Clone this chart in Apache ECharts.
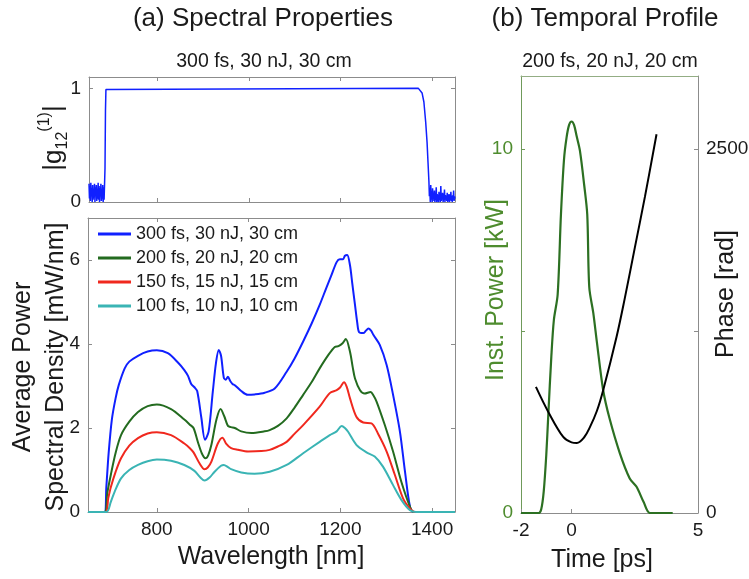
<!DOCTYPE html>
<html><head><meta charset="utf-8">
<script src="https://cdn.jsdelivr.net/npm/echarts@6/dist/echarts.min.js"></script>
<style>html,body{margin:0;padding:0;background:#fff}#c{width:749px;height:579px}</style>
</head><body><div id="c"></div>
<script>
const FONT = "'Liberation Sans', Arial, Helvetica, sans-serif";

// ---------- data ----------
const seriesNames = ['300 fs, 30 nJ, 30 cm', '200 fs, 20 nJ, 20 cm', '150 fs, 15 nJ, 15 cm', '100 fs, 10 nJ, 10 cm'];
const wlTicks = [800, 1000, 1200, 1400];
const psdTicks = [0, 2, 4, 6];
const cohTicks = [0, 1];
const timeTicks = [-2, 0, 5];
const powerTicks = [0, 5, 10];
const powerLabels = [0, 10];
const phaseTicks = [0, 1250, 2500];
const phaseLabels = [0, 2500];

const blueWl  = [650,686,690,695,702,710,717,730,740,759,780,800,824,846,860,868,875,882,888,897,905,913,922,929,935,940,946,950,955,960,965,970,984,998,1013,1035,1057,1083,1100,1119,1138,1155,1170,1180,1192,1199,1206,1210,1215,1221,1226,1232,1237,1241,1250,1256,1261,1267,1272,1286,1301,1315,1330,1341,1352,1360,1450];
const blueVal = [0,0,0.6,1.4,2.2,2.7,3.02,3.42,3.58,3.72,3.82,3.85,3.78,3.56,3.38,3.24,3.05,2.97,2.88,2.25,1.72,1.92,2.86,3.55,3.86,3.72,3.2,3.15,3.22,3.12,3.05,3.02,2.88,2.79,2.8,2.84,2.94,3.34,3.65,4.06,4.5,4.93,5.35,5.62,5.95,6.02,6.02,6.1,6.12,5.88,5.45,4.93,4.5,4.28,4.26,4.32,4.37,4.32,4.22,3.98,3.5,2.79,1.91,0.96,0.12,0,0];

const greenWl  = [650,686,692,700,710,722,740,759,780,800,831,860,872,880,890,898,906,912,919,930,939,947,955,962,970,984,1006,1035,1046,1064,1083,1100,1119,1138,1155,1174,1188,1196,1205,1212,1221,1227,1232,1243,1253,1266,1272,1279,1297,1315,1333,1352,1360,1450];
const greenVal = [0,0,0.45,0.9,1.4,1.83,2.15,2.38,2.52,2.56,2.45,2.2,2.08,2.0,1.65,1.4,1.28,1.35,1.6,2.2,2.45,2.28,2.05,2.02,2.0,1.92,1.88,1.92,1.95,2.05,2.23,2.48,2.79,3.1,3.42,3.74,3.93,3.95,4.02,4.12,3.82,3.45,3.18,2.9,2.82,2.86,2.78,2.63,2.07,1.44,0.72,0.12,0,0];

const redWl  = [650,688,694,700,710,722,740,759,780,800,831,860,872,880,893,904,911,919,933,943,951,962,977,999,1028,1046,1064,1083,1100,1119,1155,1177,1192,1200,1208,1214,1221,1235,1250,1268,1282,1301,1319,1337,1352,1362,1450];
const redVal = [0,0,0.32,0.6,0.95,1.28,1.58,1.76,1.87,1.9,1.83,1.63,1.52,1.42,1.16,1.02,1.06,1.2,1.63,1.77,1.63,1.52,1.48,1.44,1.45,1.48,1.56,1.67,1.86,2.07,2.51,2.83,2.9,2.97,3.09,2.98,2.71,2.27,2.13,2.11,1.87,1.44,0.88,0.32,0.08,0,0];

const cyanWl  = [650,690,700,708,722,740,759,780,800,831,860,882,895,904,915,926,940,946,955,962,984,1013,1046,1083,1119,1155,1177,1192,1203,1210,1217,1235,1257,1275,1293,1315,1333,1352,1365,1450];
const cyanVal = [0,0,0.25,0.48,0.8,1.0,1.12,1.21,1.25,1.22,1.12,0.98,0.82,0.75,0.82,0.96,1.1,1.12,1.07,1.02,0.94,0.91,0.96,1.12,1.4,1.67,1.83,1.92,2.05,2.0,1.91,1.6,1.42,1.32,1.08,0.64,0.29,0.04,0,0];

const cohWl  = [650,651,652,653,654,655,656,657,658,659,660,661,662,663,664,665,666,667,668,669,670,671,672,673,674,675,676,677,678,679,680,681,682,683,684,685,686,687,688,1370,1374,1378,1382,1386,1389,1391,1393,1394,
  1395,1396,1397,1398,1399,1400,1401,1402,1403,1404,1405,1406,1407,1408,1409,1410,1411,1412,1413,1414,1415,1416,1417,1418,1419,1420,1421,1422,1423,1424,1425,1426,1427,1428,1429,1430,1431,1432,1433,1434,1435,1436,1437,1438,1439,1440,1441,1442,1443,1444,1445,1446,1447,1448,1449,1450];
const cohVal = [0.16,0.03,0.14,0.01,0.17,0.05,0.12,0.0,0.15,0.02,0.1,0.04,0.16,0.0,0.13,0.06,0.15,0.01,0.11,0.03,0.17,0.02,0.14,0.0,0.12,0.05,0.16,0.01,0.09,0.03,0.15,0.0,0.13,0.02,0.02,0.3,0.8,0.99,1.0,1.0,0.99,0.96,0.88,0.7,0.52,0.35,0.18,0.05,
  0.1,0.0,0.15,0.02,0.08,0.0,0.12,0.03,0.06,0.01,0.1,0.0,0.05,0.02,0.13,0.0,0.07,0.03,0.04,0.0,0.09,0.02,0.06,0.0,0.14,0.01,0.05,0.03,0.08,0.0,0.04,0.02,0.11,0.0,0.06,0.03,0.05,0.01,0.08,0.0,0.03,0.02,0.07,0.0,0.05,0.02,0.09,0.01,0.04,0.0,0.06,0.02,0.1,0.01,0.05,0.03];

const powerT   = [-2,-1.3,-1.2,-1.1,-1.0,-0.92,-0.8,-0.7,-0.55,-0.42,-0.3,-0.2,-0.1,0.0,0.1,0.2,0.33,0.5,0.62,0.7,0.86,1.0,1.25,1.5,1.91,2.3,2.57,2.85,3.1,4.0];
const powerVal = [0,0,0.1,0.6,1.6,2.7,4.3,5.3,6.0,8.2,9.7,10.3,10.65,10.75,10.65,10.35,9.95,9.0,8.2,6.2,5.49,4.7,3.37,2.6,1.64,0.95,0.72,0.3,0,0];

const phaseT   = [-1.41,-0.92,-0.33,0.0,0.21,0.5,0.73,1.0,1.25,1.78,2.1,2.5,2.9,3.36];
const phaseVal = [866,694,522,485,481,520,591,700,843,1210,1470,1820,2170,2600];

// ---------- styles ----------
const colors = ['#1020ff', '#236b1f', '#f0281e', '#3ab4b4'];
const AX = '#8c8c8c';
const TXT = '#1a1a1a';
const GREEN_LBL = '#4e8c2e';
const pairs = (xs, ys) => xs.map((x, i) => [x, ys[i]]);
const plain = v => String(v);

function xAx(grid, pos, min, max, ticks, showLabel, lineColor) {
  return {
    type: 'value', gridIndex: grid, position: pos, min: min, max: max,
    axisLine: { show: true, onZero: false, lineStyle: { color: lineColor || AX, width: 1 } },
    axisTick: { show: !!ticks, inside: true, length: 4, customValues: ticks || [], lineStyle: { color: lineColor || AX } },
    axisLabel: { show: showLabel, customValues: ticks || [], formatter: plain, color: TXT, fontSize: 19, fontFamily: FONT, margin: 8 },
    splitLine: { show: false }
  };
}
function yAx(grid, pos, min, max, ticks, labels, lineColor, labelColor) {
  return {
    type: 'value', gridIndex: grid, position: pos, min: min, max: max,
    axisLine: { show: true, onZero: false, lineStyle: { color: lineColor || AX, width: 1 } },
    axisTick: { show: true, inside: true, length: 4, customValues: ticks, lineStyle: { color: lineColor || AX } },
    axisLabel: { show: !!labels, customValues: labels || [], formatter: plain, color: labelColor || TXT, fontSize: 19, fontFamily: FONT, margin: 8 },
    splitLine: { show: false }
  };
}
function lineSeries(name, xi, yi, data, color, width, smooth) {
  return { type: 'line', name: name, xAxisIndex: xi, yAxisIndex: yi, data: data, showSymbol: false, smooth: smooth,
    lineStyle: { color: color, width: width }, itemStyle: { color: color } };
}

const chart = echarts.init(document.getElementById('c'), null, { renderer: 'canvas' });
const option = {
  backgroundColor: '#fff',
  animation: false,
  grid: [
    { left: 89, top: 77, width: 366, height: 125, outerBoundsMode: 'none', containLabel: false },
    { left: 88, top: 218, width: 367, height: 294, outerBoundsMode: 'none', containLabel: false },
    { left: 521, top: 76, width: 177, height: 437, outerBoundsMode: 'none', containLabel: false }
  ],
  xAxis: [
    xAx(0, 'bottom', 650, 1450, wlTicks, false),
    xAx(0, 'top', 650, 1450, wlTicks, false),
    xAx(1, 'bottom', 650, 1450, wlTicks, true),
    xAx(1, 'top', 650, 1450, wlTicks, false),
    xAx(2, 'bottom', -2, 5, timeTicks, true),
    xAx(2, 'top', -2, 5, null, false, '#93ad84')
  ],
  yAxis: [
    yAx(0, 'left', 0, 1.1, cohTicks, cohTicks),
    yAx(0, 'right', 0, 1.1, cohTicks, null),
    yAx(1, 'left', 0, 7, psdTicks, psdTicks),
    yAx(1, 'right', 0, 7, psdTicks, null),
    yAx(2, 'left', 0, 12, powerTicks, powerLabels, '#6f9a5a', GREEN_LBL),
    yAx(2, 'right', 0, 3000, phaseTicks, phaseLabels, AX, TXT)
  ],
  legend: {
    data: seriesNames, orient: 'vertical', left: 98, top: 225,
    icon: 'rect', itemWidth: 33, itemHeight: 3, itemGap: 6,
    textStyle: { fontSize: 18, fontFamily: FONT, color: TXT, padding: [0, 0, 0, 0] },
    backgroundColor: 'rgba(255,255,255,0)', padding: 0
  },
  series: [
    lineSeries('coh', 0, 0, pairs(cohWl, cohVal), colors[0], 1.5, false),
    lineSeries(seriesNames[0], 2, 2, pairs(blueWl, blueVal), colors[0], 2, 0.3),
    lineSeries(seriesNames[1], 2, 2, pairs(greenWl, greenVal), colors[1], 2, 0.3),
    lineSeries(seriesNames[2], 2, 2, pairs(redWl, redVal), colors[2], 2, 0.3),
    lineSeries(seriesNames[3], 2, 2, pairs(cyanWl, cyanVal), colors[3], 2, 0.3),
    lineSeries('power', 4, 4, pairs(powerT, powerVal), '#2c7022', 2.2, 0.3),
    lineSeries('phase', 4, 5, pairs(phaseT, phaseVal), '#000', 2, 0.35)
  ],
  graphic: [
    { type: 'text', x: 263, y: 19, style: { text: '(a) Spectral Properties', fontSize: 26, fontFamily: FONT, fill: TXT, textAlign: 'center', textVerticalAlign: 'middle' } },
    { type: 'text', x: 605, y: 19, style: { text: '(b) Temporal Profile', fontSize: 26, fontFamily: FONT, fill: TXT, textAlign: 'center', textVerticalAlign: 'middle' } },
    { type: 'text', x: 264, y: 62, style: { text: '300 fs, 30 nJ, 30 cm', fontSize: 19.5, fontFamily: FONT, fill: TXT, textAlign: 'center', textVerticalAlign: 'middle' } },
    { type: 'text', x: 610, y: 62, style: { text: '200 fs, 20 nJ, 20 cm', fontSize: 19.5, fontFamily: FONT, fill: TXT, textAlign: 'center', textVerticalAlign: 'middle' } },
    { type: 'text', x: 271, y: 557, style: { text: 'Wavelength [nm]', fontSize: 25, fontFamily: FONT, fill: TXT, textAlign: 'center', textVerticalAlign: 'middle' } },
    { type: 'text', x: 602, y: 560, style: { text: 'Time [ps]', fontSize: 25, fontFamily: FONT, fill: TXT, textAlign: 'center', textVerticalAlign: 'middle' } },
    { type: 'text', x: 54, y: 138, rotation: Math.PI / 2, style: {
        text: '{n||g}{s|12}{p|(1)}{n||}', fontFamily: FONT, fill: TXT, textAlign: 'center', textVerticalAlign: 'middle',
        rich: { n: { fontSize: 26, lineHeight: 34, fontFamily: FONT, fill: TXT }, s: { fontSize: 16, lineHeight: 22, verticalAlign: 'bottom', fontFamily: FONT, fill: TXT }, p: { fontSize: 16, lineHeight: 22, verticalAlign: 'top', fontFamily: FONT, fill: TXT } } } },
    { type: 'text', x: 40, y: 367, rotation: Math.PI / 2, z: 1, style: { text: 'Average Power\nSpectral Density [mW/nm]', fontSize: 25, lineHeight: 33, fontFamily: FONT, fill: TXT, textAlign: 'center', textVerticalAlign: 'middle' } },
    { type: 'rect', shape: { x: 42, y: 204, width: 27, height: 14 }, z: 2, style: { fill: '#fff' } },
    { type: 'text', x: 496, y: 290, rotation: Math.PI / 2, style: { text: 'Inst. Power [kW]', fontSize: 25, fontFamily: FONT, fill: GREEN_LBL, textAlign: 'center', textVerticalAlign: 'middle' } },
    { type: 'text', x: 726, y: 294, rotation: Math.PI / 2, style: { text: 'Phase [rad]', fontSize: 25, fontFamily: FONT, fill: TXT, textAlign: 'center', textVerticalAlign: 'middle' } }
  ]
};
chart.setOption(option);
</script>
</body></html>
